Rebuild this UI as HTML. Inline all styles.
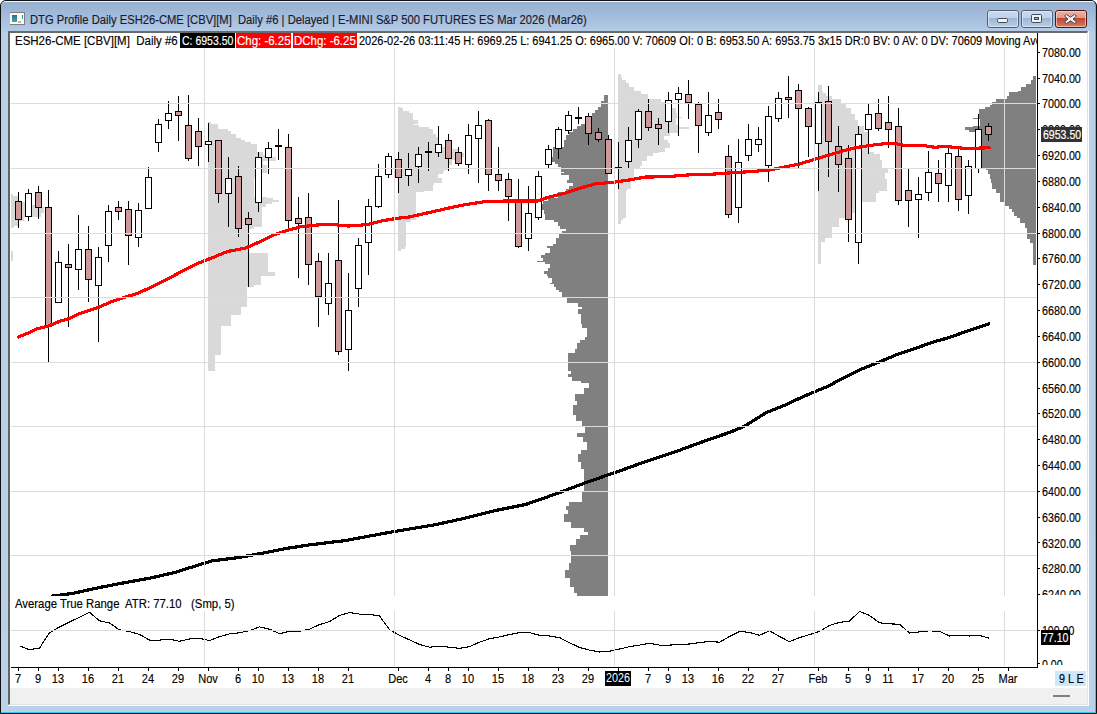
<!DOCTYPE html>
<html><head><meta charset="utf-8"><style>
html,body{margin:0;padding:0;}
body{width:1097px;height:714px;overflow:hidden;position:relative;background:#fff;font-family:"Liberation Sans",sans-serif;}
.t{position:absolute;white-space:pre;line-height:14px;transform-origin:0 0;-webkit-text-stroke:0.15px currentColor;}
.d{position:absolute;top:672px;width:60px;text-align:center;font-size:12px;line-height:14px;white-space:pre;transform:scaleX(0.92);-webkit-text-stroke:0.15px currentColor;}
#frame{position:absolute;left:0;top:0;width:1097px;height:714px;box-sizing:border-box;border:1px solid #101010;border-radius:6px 6px 0 0;background:#101010;}
#frame2{position:absolute;left:1px;top:1px;width:1095px;height:712px;box-sizing:border-box;border-radius:5px 5px 0 0;border-top:1px solid #f4f8fc;border-right:1px solid #38c4ee;border-bottom:1px solid #38c4ee;
 background:linear-gradient(180deg,#97b0ce 0px,#a2badb 12px,#b4cbe6 29px,#b9d0ea 31px,#bad1ea 714px);}
#client{position:absolute;left:8px;top:31px;width:1081px;height:675px;background:#fff;}
#cborder{position:absolute;left:8px;top:31px;width:1080px;height:674px;box-sizing:border-box;border-left:2px solid #646464;border-top:2px solid #6a6a6a;border-right:1px solid #e3e3e3;border-bottom:1px solid #e3e3e3;}
#status{position:absolute;left:10px;top:688px;width:1077px;height:16px;background:#f0f0f0;}
.btn{position:absolute;top:10px;height:17px;box-sizing:border-box;border:1px solid #5a6a80;border-radius:3px;}
svg{position:absolute;left:0;top:0;}
</style></head><body>
<div id="frame"></div><div id="frame2"></div>
<div id="client"></div>
<div id="status"></div>
<div style="position:absolute;left:1053px;top:695px;width:17px;height:2px;background:#808080"></div>
<div id="cborder"></div>
<svg width="1097" height="40" viewBox="0 0 1097 40" style="position:absolute;left:0;top:0">
<defs>
<linearGradient id="bg1" x1="0" y1="0" x2="0" y2="1"><stop offset="0" stop-color="#cddcee"/><stop offset="0.45" stop-color="#bcd0e7"/><stop offset="0.46" stop-color="#9cb5d2"/><stop offset="1" stop-color="#bcd2ea"/></linearGradient>
<linearGradient id="bg2" x1="0" y1="0" x2="0" y2="1"><stop offset="0" stop-color="#eab3a5"/><stop offset="0.45" stop-color="#e09a88"/><stop offset="0.46" stop-color="#c2452a"/><stop offset="1" stop-color="#d8806a"/></linearGradient>
</defs>
<rect x="987.5" y="10.5" width="31" height="17" rx="2.5" fill="url(#bg1)" stroke="#4f5f77"/>
<rect x="988.5" y="11.5" width="29" height="15" rx="1.5" fill="none" stroke="#e4eef8" stroke-opacity="0.7"/>
<rect x="1021.5" y="10.5" width="31" height="17" rx="2.5" fill="url(#bg1)" stroke="#4f5f77"/>
<rect x="1022.5" y="11.5" width="29" height="15" rx="1.5" fill="none" stroke="#e4eef8" stroke-opacity="0.7"/>
<rect x="1055.5" y="10.5" width="31" height="17" rx="2.5" fill="url(#bg2)" stroke="#4a1416"/>
<rect x="1056.5" y="11.5" width="29" height="15" rx="1.5" fill="none" stroke="#f6d6cc" stroke-opacity="0.7"/>
<rect x="997.5" y="18.5" width="10" height="4" rx="1.2" fill="#f4f4f4" stroke="#3c4a5c"/>
<rect x="1031.5" y="14.5" width="10" height="8" rx="1.2" fill="#f4f4f4" stroke="#3c4a5c"/>
<rect x="1034.5" y="17.5" width="4" height="2" fill="#8fb0d4" stroke="#3c4a5c"/>
<path d="M1066.5,14.5 L1070.5,17.2 L1074.5,14.5 L1076.5,16 L1073,19 L1076.5,22 L1074.5,23.5 L1070.5,20.8 L1066.5,23.5 L1064.5,22 L1068,19 L1064.5,16 Z" fill="#f6f6f6" stroke="#3c4a5c" stroke-width="1" stroke-linejoin="round"/>
</svg>
<svg width="30" height="30" viewBox="0 0 30 30" style="position:absolute;left:0;top:0" shape-rendering="crispEdges">
<defs><linearGradient id="ig" x1="0" y1="0" x2="0" y2="1"><stop offset="0" stop-color="#2f62b4"/><stop offset="0.5" stop-color="#3a8f9a"/><stop offset="1" stop-color="#3fb455"/></linearGradient></defs>
<rect x="10" y="12" width="15" height="13" fill="#7d7d7d"/>
<rect x="10" y="13" width="14" height="11" fill="#fcfcfc"/>
<rect x="12" y="15" width="5" height="7" fill="url(#ig)"/>
<rect x="22" y="15" width="1" height="4" fill="url(#ig)"/>
<rect x="18" y="21" width="3" height="2" fill="#b8b8b8"/>
</svg>
<div class="t" style="left:30px;top:13px;font-size:12px;transform:scaleX(0.934);color:#1a1a2a">DTG Profile Daily ESH26-CME [CBV][M]  Daily #6 | Delayed | E-MINI S&amp;P 500 FUTURES ES Mar 2026 (Mar26)</div>
<svg width="1097" height="714" viewBox="0 0 1097 714" shape-rendering="crispEdges">
<defs><clipPath id="mainclip"><rect x="10" y="48" width="1027" height="548"/></clipPath><clipPath id="atrclip"><rect x="11" y="596" width="1026" height="71"/></clipPath></defs>
<g clip-path="url(#mainclip)">
<rect x="11" y="194" width="2" height="2" fill="#D9D9D9"/>
<rect x="11" y="196" width="7" height="6" fill="#D9D9D9"/>
<rect x="11" y="202" width="14" height="3" fill="#D9D9D9"/>
<rect x="11" y="205" width="27" height="2" fill="#D9D9D9"/>
<rect x="11" y="207" width="33" height="6" fill="#D9D9D9"/>
<rect x="11" y="213" width="30" height="4" fill="#D9D9D9"/>
<rect x="11" y="217" width="13" height="4" fill="#D9D9D9"/>
<rect x="11" y="221" width="7" height="5" fill="#D9D9D9"/>
<rect x="11" y="226" width="3" height="2" fill="#D9D9D9"/>
<rect x="11" y="251" width="2" height="10" fill="#D9D9D9"/>
<rect x="208" y="122" width="3" height="2" fill="#D9D9D9"/>
<rect x="208" y="124" width="10" height="5" fill="#D9D9D9"/>
<rect x="208" y="129" width="20" height="2" fill="#D9D9D9"/>
<rect x="208" y="131" width="23" height="3" fill="#D9D9D9"/>
<rect x="208" y="134" width="28" height="4" fill="#D9D9D9"/>
<rect x="208" y="138" width="33" height="2" fill="#D9D9D9"/>
<rect x="208" y="140" width="37" height="2" fill="#D9D9D9"/>
<rect x="208" y="142" width="43" height="2" fill="#D9D9D9"/>
<rect x="208" y="144" width="49" height="8" fill="#D9D9D9"/>
<rect x="208" y="152" width="55" height="3" fill="#D9D9D9"/>
<rect x="208" y="155" width="60" height="2" fill="#D9D9D9"/>
<rect x="208" y="157" width="68" height="4" fill="#D9D9D9"/>
<rect x="208" y="161" width="55" height="4" fill="#D9D9D9"/>
<rect x="208" y="165" width="59" height="8" fill="#D9D9D9"/>
<rect x="208" y="173" width="54" height="5" fill="#D9D9D9"/>
<rect x="208" y="178" width="46" height="19" fill="#D9D9D9"/>
<rect x="208" y="197" width="59" height="1" fill="#D9D9D9"/>
<rect x="208" y="198" width="65" height="2" fill="#D9D9D9"/>
<rect x="208" y="200" width="71" height="2" fill="#D9D9D9"/>
<rect x="208" y="202" width="64" height="2" fill="#D9D9D9"/>
<rect x="208" y="204" width="58" height="3" fill="#D9D9D9"/>
<rect x="208" y="207" width="54" height="20" fill="#D9D9D9"/>
<rect x="208" y="227" width="46" height="2" fill="#D9D9D9"/>
<rect x="208" y="229" width="40" height="24" fill="#D9D9D9"/>
<rect x="208" y="253" width="60" height="19" fill="#D9D9D9"/>
<rect x="208" y="272" width="67" height="4" fill="#D9D9D9"/>
<rect x="208" y="276" width="53" height="9" fill="#D9D9D9"/>
<rect x="208" y="285" width="46" height="2" fill="#D9D9D9"/>
<rect x="208" y="287" width="39" height="20" fill="#D9D9D9"/>
<rect x="208" y="307" width="33" height="8" fill="#D9D9D9"/>
<rect x="208" y="315" width="23" height="11" fill="#D9D9D9"/>
<rect x="208" y="326" width="13" height="29" fill="#D9D9D9"/>
<rect x="208" y="355" width="7" height="16" fill="#D9D9D9"/>
<rect x="398" y="107" width="3" height="1" fill="#D9D9D9"/>
<rect x="398" y="108" width="5" height="3" fill="#D9D9D9"/>
<rect x="398" y="111" width="11" height="2" fill="#D9D9D9"/>
<rect x="398" y="113" width="15" height="7" fill="#D9D9D9"/>
<rect x="398" y="120" width="20" height="4" fill="#D9D9D9"/>
<rect x="398" y="124" width="16" height="1" fill="#D9D9D9"/>
<rect x="398" y="125" width="21" height="2" fill="#D9D9D9"/>
<rect x="398" y="127" width="31" height="2" fill="#D9D9D9"/>
<rect x="398" y="129" width="35" height="5" fill="#D9D9D9"/>
<rect x="398" y="134" width="38" height="3" fill="#D9D9D9"/>
<rect x="398" y="137" width="40" height="8" fill="#D9D9D9"/>
<rect x="398" y="145" width="44" height="2" fill="#D9D9D9"/>
<rect x="398" y="147" width="54" height="2" fill="#D9D9D9"/>
<rect x="398" y="149" width="61" height="4" fill="#D9D9D9"/>
<rect x="398" y="153" width="66" height="4" fill="#D9D9D9"/>
<rect x="398" y="157" width="60" height="3" fill="#D9D9D9"/>
<rect x="398" y="160" width="54" height="5" fill="#D9D9D9"/>
<rect x="398" y="165" width="50" height="5" fill="#D9D9D9"/>
<rect x="398" y="170" width="46" height="2" fill="#D9D9D9"/>
<rect x="398" y="172" width="45" height="2" fill="#D9D9D9"/>
<rect x="398" y="174" width="40" height="4" fill="#D9D9D9"/>
<rect x="398" y="178" width="44" height="5" fill="#D9D9D9"/>
<rect x="398" y="183" width="36" height="2" fill="#D9D9D9"/>
<rect x="398" y="185" width="35" height="6" fill="#D9D9D9"/>
<rect x="398" y="191" width="26" height="1" fill="#D9D9D9"/>
<rect x="398" y="192" width="18" height="28" fill="#D9D9D9"/>
<rect x="398" y="220" width="13" height="2" fill="#D9D9D9"/>
<rect x="398" y="222" width="8" height="25" fill="#D9D9D9"/>
<rect x="398" y="247" width="7" height="2" fill="#D9D9D9"/>
<rect x="398" y="249" width="3" height="2" fill="#D9D9D9"/>
<rect x="618" y="74" width="3" height="3" fill="#D9D9D9"/>
<rect x="618" y="77" width="4" height="3" fill="#D9D9D9"/>
<rect x="618" y="80" width="8" height="3" fill="#D9D9D9"/>
<rect x="618" y="83" width="11" height="4" fill="#D9D9D9"/>
<rect x="618" y="87" width="16" height="4" fill="#D9D9D9"/>
<rect x="618" y="91" width="23" height="3" fill="#D9D9D9"/>
<rect x="618" y="94" width="30" height="5" fill="#D9D9D9"/>
<rect x="618" y="99" width="43" height="3" fill="#D9D9D9"/>
<rect x="618" y="102" width="47" height="4" fill="#D9D9D9"/>
<rect x="618" y="106" width="54" height="2" fill="#D9D9D9"/>
<rect x="618" y="108" width="58" height="5" fill="#D9D9D9"/>
<rect x="618" y="113" width="59" height="4" fill="#D9D9D9"/>
<rect x="618" y="117" width="64" height="1" fill="#D9D9D9"/>
<rect x="618" y="118" width="58" height="7" fill="#D9D9D9"/>
<rect x="618" y="125" width="60" height="2" fill="#D9D9D9"/>
<rect x="618" y="127" width="71" height="2" fill="#D9D9D9"/>
<rect x="618" y="129" width="60" height="4" fill="#D9D9D9"/>
<rect x="618" y="133" width="52" height="3" fill="#D9D9D9"/>
<rect x="618" y="136" width="46" height="4" fill="#D9D9D9"/>
<rect x="618" y="140" width="50" height="3" fill="#D9D9D9"/>
<rect x="618" y="143" width="52" height="5" fill="#D9D9D9"/>
<rect x="618" y="148" width="47" height="4" fill="#D9D9D9"/>
<rect x="618" y="152" width="41" height="1" fill="#D9D9D9"/>
<rect x="618" y="153" width="35" height="3" fill="#D9D9D9"/>
<rect x="618" y="156" width="29" height="5" fill="#D9D9D9"/>
<rect x="618" y="161" width="24" height="5" fill="#D9D9D9"/>
<rect x="618" y="166" width="22" height="2" fill="#D9D9D9"/>
<rect x="618" y="168" width="16" height="11" fill="#D9D9D9"/>
<rect x="618" y="179" width="13" height="10" fill="#D9D9D9"/>
<rect x="618" y="189" width="9" height="2" fill="#D9D9D9"/>
<rect x="618" y="191" width="8" height="27" fill="#D9D9D9"/>
<rect x="618" y="218" width="5" height="2" fill="#D9D9D9"/>
<rect x="618" y="220" width="3" height="4" fill="#D9D9D9"/>
<rect x="818" y="85" width="4" height="6" fill="#D9D9D9"/>
<rect x="818" y="91" width="5" height="2" fill="#D9D9D9"/>
<rect x="818" y="93" width="8" height="3" fill="#D9D9D9"/>
<rect x="818" y="96" width="14" height="3" fill="#D9D9D9"/>
<rect x="818" y="99" width="23" height="4" fill="#D9D9D9"/>
<rect x="818" y="103" width="28" height="5" fill="#D9D9D9"/>
<rect x="818" y="108" width="33" height="6" fill="#D9D9D9"/>
<rect x="818" y="114" width="37" height="6" fill="#D9D9D9"/>
<rect x="818" y="120" width="40" height="6" fill="#D9D9D9"/>
<rect x="818" y="126" width="46" height="6" fill="#D9D9D9"/>
<rect x="818" y="132" width="50" height="20" fill="#D9D9D9"/>
<rect x="818" y="152" width="56" height="2" fill="#D9D9D9"/>
<rect x="818" y="154" width="62" height="6" fill="#D9D9D9"/>
<rect x="818" y="160" width="64" height="8" fill="#D9D9D9"/>
<rect x="818" y="168" width="70" height="5" fill="#D9D9D9"/>
<rect x="818" y="173" width="67" height="6" fill="#D9D9D9"/>
<rect x="818" y="179" width="69" height="12" fill="#D9D9D9"/>
<rect x="818" y="191" width="61" height="2" fill="#D9D9D9"/>
<rect x="818" y="193" width="58" height="9" fill="#D9D9D9"/>
<rect x="818" y="202" width="44" height="11" fill="#D9D9D9"/>
<rect x="818" y="213" width="27" height="5" fill="#D9D9D9"/>
<rect x="818" y="218" width="21" height="9" fill="#D9D9D9"/>
<rect x="818" y="227" width="14" height="11" fill="#D9D9D9"/>
<rect x="818" y="238" width="7" height="4" fill="#D9D9D9"/>
<rect x="818" y="242" width="3" height="22" fill="#D9D9D9"/>
<rect x="604" y="95" width="4" height="6" fill="#808080"/>
<rect x="601" y="101" width="7" height="6" fill="#808080"/>
<rect x="598" y="107" width="10" height="3" fill="#808080"/>
<rect x="595" y="110" width="13" height="3" fill="#808080"/>
<rect x="592" y="113" width="16" height="3" fill="#808080"/>
<rect x="588" y="116" width="20" height="3" fill="#808080"/>
<rect x="585" y="119" width="23" height="5" fill="#808080"/>
<rect x="581" y="124" width="27" height="2" fill="#808080"/>
<rect x="577" y="126" width="31" height="3" fill="#808080"/>
<rect x="573" y="129" width="35" height="3" fill="#808080"/>
<rect x="569" y="132" width="39" height="3" fill="#808080"/>
<rect x="566" y="135" width="42" height="5" fill="#808080"/>
<rect x="564" y="140" width="44" height="7" fill="#808080"/>
<rect x="553" y="147" width="55" height="10" fill="#808080"/>
<rect x="552" y="157" width="56" height="5" fill="#808080"/>
<rect x="555" y="162" width="53" height="2" fill="#808080"/>
<rect x="558" y="164" width="50" height="3" fill="#808080"/>
<rect x="561" y="167" width="47" height="5" fill="#808080"/>
<rect x="564" y="172" width="44" height="1" fill="#808080"/>
<rect x="561" y="173" width="47" height="2" fill="#808080"/>
<rect x="569" y="175" width="39" height="5" fill="#808080"/>
<rect x="567" y="180" width="41" height="3" fill="#808080"/>
<rect x="573" y="183" width="35" height="3" fill="#808080"/>
<rect x="569" y="186" width="39" height="3" fill="#808080"/>
<rect x="566" y="189" width="42" height="3" fill="#808080"/>
<rect x="558" y="192" width="50" height="6" fill="#808080"/>
<rect x="548" y="198" width="60" height="3" fill="#808080"/>
<rect x="543" y="201" width="65" height="3" fill="#808080"/>
<rect x="542" y="204" width="66" height="6" fill="#808080"/>
<rect x="544" y="210" width="64" height="4" fill="#808080"/>
<rect x="545" y="214" width="63" height="6" fill="#808080"/>
<rect x="554" y="220" width="54" height="2" fill="#808080"/>
<rect x="558" y="222" width="50" height="4" fill="#808080"/>
<rect x="560" y="226" width="48" height="3" fill="#808080"/>
<rect x="566" y="229" width="42" height="2" fill="#808080"/>
<rect x="562" y="231" width="46" height="3" fill="#808080"/>
<rect x="559" y="234" width="49" height="4" fill="#808080"/>
<rect x="556" y="238" width="52" height="3" fill="#808080"/>
<rect x="556" y="241" width="52" height="3" fill="#808080"/>
<rect x="553" y="244" width="55" height="2" fill="#808080"/>
<rect x="547" y="246" width="61" height="2" fill="#808080"/>
<rect x="550" y="248" width="58" height="5" fill="#808080"/>
<rect x="545" y="253" width="63" height="2" fill="#808080"/>
<rect x="541" y="255" width="67" height="3" fill="#808080"/>
<rect x="543" y="258" width="65" height="3" fill="#808080"/>
<rect x="537" y="261" width="71" height="1" fill="#808080"/>
<rect x="545" y="262" width="63" height="2" fill="#808080"/>
<rect x="550" y="264" width="58" height="4" fill="#808080"/>
<rect x="548" y="268" width="60" height="3" fill="#808080"/>
<rect x="544" y="271" width="64" height="3" fill="#808080"/>
<rect x="547" y="274" width="61" height="2" fill="#808080"/>
<rect x="548" y="276" width="60" height="2" fill="#808080"/>
<rect x="552" y="278" width="56" height="5" fill="#808080"/>
<rect x="550" y="283" width="58" height="1" fill="#808080"/>
<rect x="554" y="284" width="54" height="3" fill="#808080"/>
<rect x="556" y="287" width="52" height="3" fill="#808080"/>
<rect x="559" y="290" width="49" height="2" fill="#808080"/>
<rect x="562" y="292" width="46" height="5" fill="#808080"/>
<rect x="567" y="297" width="41" height="6" fill="#808080"/>
<rect x="578" y="303" width="30" height="4" fill="#808080"/>
<rect x="582" y="307" width="26" height="2" fill="#808080"/>
<rect x="578" y="309" width="30" height="5" fill="#808080"/>
<rect x="581" y="314" width="27" height="3" fill="#808080"/>
<rect x="581" y="317" width="27" height="7" fill="#808080"/>
<rect x="582" y="324" width="26" height="4" fill="#808080"/>
<rect x="587" y="328" width="21" height="9" fill="#808080"/>
<rect x="585" y="337" width="23" height="3" fill="#808080"/>
<rect x="580" y="340" width="28" height="3" fill="#808080"/>
<rect x="577" y="343" width="31" height="6" fill="#808080"/>
<rect x="575" y="349" width="33" height="4" fill="#808080"/>
<rect x="568" y="353" width="40" height="9" fill="#808080"/>
<rect x="568" y="362" width="40" height="9" fill="#808080"/>
<rect x="571" y="371" width="37" height="3" fill="#808080"/>
<rect x="568" y="374" width="40" height="3" fill="#808080"/>
<rect x="572" y="377" width="36" height="4" fill="#808080"/>
<rect x="581" y="381" width="27" height="2" fill="#808080"/>
<rect x="589" y="383" width="19" height="5" fill="#808080"/>
<rect x="584" y="388" width="24" height="6" fill="#808080"/>
<rect x="575" y="394" width="33" height="7" fill="#808080"/>
<rect x="577" y="401" width="31" height="4" fill="#808080"/>
<rect x="573" y="405" width="35" height="10" fill="#808080"/>
<rect x="576" y="415" width="32" height="6" fill="#808080"/>
<rect x="582" y="421" width="26" height="5" fill="#808080"/>
<rect x="585" y="426" width="23" height="7" fill="#808080"/>
<rect x="577" y="433" width="31" height="4" fill="#808080"/>
<rect x="583" y="437" width="25" height="5" fill="#808080"/>
<rect x="587" y="442" width="21" height="8" fill="#808080"/>
<rect x="581" y="450" width="27" height="4" fill="#808080"/>
<rect x="578" y="454" width="30" height="8" fill="#808080"/>
<rect x="581" y="462" width="27" height="7" fill="#808080"/>
<rect x="584" y="469" width="24" height="22" fill="#808080"/>
<rect x="582" y="491" width="26" height="11" fill="#808080"/>
<rect x="569" y="502" width="39" height="4" fill="#808080"/>
<rect x="566" y="506" width="42" height="4" fill="#808080"/>
<rect x="568" y="510" width="40" height="4" fill="#808080"/>
<rect x="564" y="514" width="44" height="8" fill="#808080"/>
<rect x="571" y="522" width="37" height="6" fill="#808080"/>
<rect x="584" y="528" width="24" height="4" fill="#808080"/>
<rect x="588" y="532" width="20" height="3" fill="#808080"/>
<rect x="580" y="535" width="28" height="4" fill="#808080"/>
<rect x="576" y="539" width="32" height="6" fill="#808080"/>
<rect x="570" y="545" width="38" height="6" fill="#808080"/>
<rect x="571" y="551" width="37" height="12" fill="#808080"/>
<rect x="569" y="563" width="39" height="7" fill="#808080"/>
<rect x="565" y="570" width="43" height="8" fill="#808080"/>
<rect x="570" y="578" width="38" height="9" fill="#808080"/>
<rect x="574" y="587" width="34" height="6" fill="#808080"/>
<rect x="577" y="593" width="31" height="3" fill="#808080"/>
<rect x="1033" y="76" width="3" height="4" fill="#808080"/>
<rect x="1031" y="80" width="5" height="4" fill="#808080"/>
<rect x="1026" y="84" width="10" height="3" fill="#808080"/>
<rect x="1021" y="87" width="15" height="4" fill="#808080"/>
<rect x="1018" y="91" width="18" height="1" fill="#808080"/>
<rect x="1009" y="92" width="27" height="4" fill="#808080"/>
<rect x="1007" y="96" width="29" height="3" fill="#808080"/>
<rect x="996" y="99" width="40" height="3" fill="#808080"/>
<rect x="992" y="102" width="44" height="3" fill="#808080"/>
<rect x="990" y="105" width="46" height="2" fill="#808080"/>
<rect x="985" y="107" width="51" height="2" fill="#808080"/>
<rect x="979" y="109" width="57" height="9" fill="#808080"/>
<rect x="973" y="118" width="63" height="1" fill="#808080"/>
<rect x="980" y="119" width="56" height="7" fill="#808080"/>
<rect x="973" y="126" width="63" height="1" fill="#808080"/>
<rect x="965" y="127" width="71" height="3" fill="#808080"/>
<rect x="969" y="130" width="67" height="2" fill="#808080"/>
<rect x="977" y="132" width="59" height="11" fill="#808080"/>
<rect x="975" y="143" width="61" height="8" fill="#808080"/>
<rect x="982" y="151" width="54" height="17" fill="#808080"/>
<rect x="986" y="168" width="50" height="2" fill="#808080"/>
<rect x="988" y="170" width="48" height="4" fill="#808080"/>
<rect x="990" y="174" width="46" height="5" fill="#808080"/>
<rect x="991" y="179" width="45" height="4" fill="#808080"/>
<rect x="992" y="183" width="44" height="6" fill="#808080"/>
<rect x="996" y="189" width="40" height="4" fill="#808080"/>
<rect x="1000" y="193" width="36" height="9" fill="#808080"/>
<rect x="1005" y="202" width="31" height="4" fill="#808080"/>
<rect x="1009" y="206" width="27" height="3" fill="#808080"/>
<rect x="1012" y="209" width="24" height="3" fill="#808080"/>
<rect x="1014" y="212" width="22" height="4" fill="#808080"/>
<rect x="1017" y="216" width="19" height="2" fill="#808080"/>
<rect x="1020" y="218" width="16" height="5" fill="#808080"/>
<rect x="1025" y="223" width="11" height="5" fill="#808080"/>
<rect x="1027" y="228" width="9" height="11" fill="#808080"/>
<rect x="1030" y="239" width="6" height="4" fill="#808080"/>
<rect x="1033" y="243" width="3" height="22" fill="#808080"/>
<polyline points="51.0,596.3 72.0,593.5 101.5,587.1 126.1,582.4 150.8,578.0 175.4,572.3 200.0,564.5 212.3,560.8 236.9,557.8 261.5,553.4 286.1,548.5 310.0,544.8 345.1,540.6 390.3,532.2 435.4,524.7 465.5,518.1 495.5,510.5 525.6,504.5 555.7,494.0 585.8,482.6 620.0,470.8 638.2,464.2 656.5,458.0 674.7,452.0 692.9,445.3 711.2,438.7 729.4,432.5 744.0,426.5 765.9,412.8 784.1,405.5 802.3,397.0 827.3,386.5 844.6,377.5 862.0,368.9 879.3,362.0 896.6,354.7 913.9,349.0 931.2,342.6 948.6,337.7 965.9,331.6 990.1,323.5" fill="none" stroke="#000" stroke-width="3.2" stroke-linejoin="round"/>
<rect x="18" y="192" width="1" height="36" fill="#000"/>
<rect x="15.5" y="201.5" width="6" height="18" fill="#CC9A9A" stroke="#000" stroke-width="1"/>
<rect x="28" y="189" width="1" height="32" fill="#000"/>
<rect x="25.5" y="193.5" width="6" height="23" fill="#fff" stroke="#000" stroke-width="1"/>
<rect x="38" y="186" width="1" height="33" fill="#000"/>
<rect x="35.5" y="192.5" width="6" height="15" fill="#CC9A9A" stroke="#000" stroke-width="1"/>
<rect x="48" y="190" width="1" height="172" fill="#000"/>
<rect x="45.5" y="207.5" width="6" height="119" fill="#CC9A9A" stroke="#000" stroke-width="1"/>
<rect x="58" y="251" width="1" height="52" fill="#000"/>
<rect x="55.5" y="262.5" width="6" height="40" fill="#fff" stroke="#000" stroke-width="1"/>
<rect x="68" y="244" width="1" height="83" fill="#000"/>
<rect x="65.5" y="264.5" width="6" height="3" fill="#CC9A9A" stroke="#000" stroke-width="1"/>
<rect x="78" y="215" width="1" height="75" fill="#000"/>
<rect x="75.5" y="249.5" width="6" height="20" fill="#fff" stroke="#000" stroke-width="1"/>
<rect x="88" y="226" width="1" height="76" fill="#000"/>
<rect x="85.5" y="249.5" width="6" height="30" fill="#CC9A9A" stroke="#000" stroke-width="1"/>
<rect x="98" y="247" width="1" height="95" fill="#000"/>
<rect x="95.5" y="257.5" width="6" height="28" fill="#fff" stroke="#000" stroke-width="1"/>
<rect x="108" y="205" width="1" height="57" fill="#000"/>
<rect x="105.5" y="211.5" width="6" height="34" fill="#fff" stroke="#000" stroke-width="1"/>
<rect x="118" y="201" width="1" height="19" fill="#000"/>
<rect x="115.5" y="207.5" width="6" height="4" fill="#CC9A9A" stroke="#000" stroke-width="1"/>
<rect x="128" y="201" width="1" height="64" fill="#000"/>
<rect x="125.5" y="209.5" width="6" height="26" fill="#CC9A9A" stroke="#000" stroke-width="1"/>
<rect x="138" y="203" width="1" height="44" fill="#000"/>
<rect x="135.5" y="210.5" width="6" height="27" fill="#fff" stroke="#000" stroke-width="1"/>
<rect x="148" y="167" width="1" height="41" fill="#000"/>
<rect x="145.5" y="177.5" width="6" height="31" fill="#fff" stroke="#000" stroke-width="1"/>
<rect x="158" y="119" width="1" height="33" fill="#000"/>
<rect x="155.5" y="124.5" width="6" height="18" fill="#fff" stroke="#000" stroke-width="1"/>
<rect x="168" y="101" width="1" height="28" fill="#000"/>
<rect x="165.5" y="113.5" width="6" height="7" fill="#fff" stroke="#000" stroke-width="1"/>
<rect x="178" y="96" width="1" height="45" fill="#000"/>
<rect x="175.5" y="111.5" width="6" height="4" fill="#CC9A9A" stroke="#000" stroke-width="1"/>
<rect x="188" y="95" width="1" height="66" fill="#000"/>
<rect x="185.5" y="125.5" width="6" height="33" fill="#CC9A9A" stroke="#000" stroke-width="1"/>
<rect x="198" y="118" width="1" height="48" fill="#000"/>
<rect x="195.5" y="131.5" width="6" height="15" fill="#CC9A9A" stroke="#000" stroke-width="1"/>
<rect x="208" y="123" width="1" height="39" fill="#000"/>
<rect x="205.5" y="141.5" width="6" height="3" fill="#fff" stroke="#000" stroke-width="1"/>
<rect x="218" y="140" width="1" height="63" fill="#000"/>
<rect x="215.5" y="140.5" width="6" height="53" fill="#CC9A9A" stroke="#000" stroke-width="1"/>
<rect x="228" y="157" width="1" height="70" fill="#000"/>
<rect x="225.5" y="178.5" width="6" height="15" fill="#fff" stroke="#000" stroke-width="1"/>
<rect x="238" y="166" width="1" height="71" fill="#000"/>
<rect x="235.5" y="176.5" width="6" height="52" fill="#CC9A9A" stroke="#000" stroke-width="1"/>
<rect x="248" y="212" width="1" height="75" fill="#000"/>
<rect x="245.5" y="218.5" width="6" height="6" fill="#CC9A9A" stroke="#000" stroke-width="1"/>
<rect x="258" y="152" width="1" height="60" fill="#000"/>
<rect x="255.5" y="157.5" width="6" height="45" fill="#fff" stroke="#000" stroke-width="1"/>
<rect x="268" y="142" width="1" height="32" fill="#000"/>
<rect x="265.5" y="148.5" width="6" height="9" fill="#fff" stroke="#000" stroke-width="1"/>
<rect x="278" y="129" width="1" height="31" fill="#000"/>
<rect x="275" y="145" width="7" height="2" fill="#000"/>
<rect x="288" y="134" width="1" height="95" fill="#000"/>
<rect x="285.5" y="147.5" width="6" height="73" fill="#CC9A9A" stroke="#000" stroke-width="1"/>
<rect x="298" y="197" width="1" height="81" fill="#000"/>
<rect x="295.5" y="218.5" width="6" height="5" fill="#CC9A9A" stroke="#000" stroke-width="1"/>
<rect x="308" y="193" width="1" height="92" fill="#000"/>
<rect x="305.5" y="217.5" width="6" height="47" fill="#CC9A9A" stroke="#000" stroke-width="1"/>
<rect x="318" y="253" width="1" height="74" fill="#000"/>
<rect x="315.5" y="261.5" width="6" height="35" fill="#CC9A9A" stroke="#000" stroke-width="1"/>
<rect x="328" y="253" width="1" height="62" fill="#000"/>
<rect x="325.5" y="283.5" width="6" height="20" fill="#fff" stroke="#000" stroke-width="1"/>
<rect x="338" y="200" width="1" height="155" fill="#000"/>
<rect x="335.5" y="260.5" width="6" height="91" fill="#CC9A9A" stroke="#000" stroke-width="1"/>
<rect x="348" y="273" width="1" height="98" fill="#000"/>
<rect x="345.5" y="310.5" width="6" height="39" fill="#fff" stroke="#000" stroke-width="1"/>
<rect x="358" y="238" width="1" height="69" fill="#000"/>
<rect x="355.5" y="245.5" width="6" height="43" fill="#fff" stroke="#000" stroke-width="1"/>
<rect x="368" y="199" width="1" height="76" fill="#000"/>
<rect x="365.5" y="206.5" width="6" height="36" fill="#fff" stroke="#000" stroke-width="1"/>
<rect x="378" y="164" width="1" height="44" fill="#000"/>
<rect x="375.5" y="176.5" width="6" height="30" fill="#fff" stroke="#000" stroke-width="1"/>
<rect x="388" y="153" width="1" height="25" fill="#000"/>
<rect x="385.5" y="156.5" width="6" height="18" fill="#fff" stroke="#000" stroke-width="1"/>
<rect x="398" y="152" width="1" height="41" fill="#000"/>
<rect x="395.5" y="159.5" width="6" height="18" fill="#CC9A9A" stroke="#000" stroke-width="1"/>
<rect x="408" y="153" width="1" height="33" fill="#000"/>
<rect x="405.5" y="169.5" width="6" height="6" fill="#fff" stroke="#000" stroke-width="1"/>
<rect x="418" y="147" width="1" height="36" fill="#000"/>
<rect x="415.5" y="154.5" width="6" height="12" fill="#fff" stroke="#000" stroke-width="1"/>
<rect x="428" y="142" width="1" height="29" fill="#000"/>
<rect x="425" y="151" width="7" height="2" fill="#000"/>
<rect x="438" y="126" width="1" height="31" fill="#000"/>
<rect x="435.5" y="144.5" width="6" height="8" fill="#fff" stroke="#000" stroke-width="1"/>
<rect x="448" y="134" width="1" height="37" fill="#000"/>
<rect x="445.5" y="140.5" width="6" height="18" fill="#CC9A9A" stroke="#000" stroke-width="1"/>
<rect x="458" y="147" width="1" height="19" fill="#000"/>
<rect x="455.5" y="152.5" width="6" height="11" fill="#CC9A9A" stroke="#000" stroke-width="1"/>
<rect x="468" y="124" width="1" height="50" fill="#000"/>
<rect x="465.5" y="135.5" width="6" height="29" fill="#fff" stroke="#000" stroke-width="1"/>
<rect x="478" y="111" width="1" height="72" fill="#000"/>
<rect x="475.5" y="125.5" width="6" height="13" fill="#fff" stroke="#000" stroke-width="1"/>
<rect x="488" y="119" width="1" height="72" fill="#000"/>
<rect x="485.5" y="120.5" width="6" height="54" fill="#CC9A9A" stroke="#000" stroke-width="1"/>
<rect x="498" y="147" width="1" height="44" fill="#000"/>
<rect x="495.5" y="174.5" width="6" height="6" fill="#CC9A9A" stroke="#000" stroke-width="1"/>
<rect x="508" y="173" width="1" height="48" fill="#000"/>
<rect x="505.5" y="179.5" width="6" height="17" fill="#CC9A9A" stroke="#000" stroke-width="1"/>
<rect x="518" y="179" width="1" height="69" fill="#000"/>
<rect x="515.5" y="202.5" width="6" height="44" fill="#CC9A9A" stroke="#000" stroke-width="1"/>
<rect x="528" y="186" width="1" height="65" fill="#000"/>
<rect x="525.5" y="213.5" width="6" height="25" fill="#fff" stroke="#000" stroke-width="1"/>
<rect x="538" y="171" width="1" height="49" fill="#000"/>
<rect x="535.5" y="176.5" width="6" height="41" fill="#fff" stroke="#000" stroke-width="1"/>
<rect x="548" y="145" width="1" height="23" fill="#000"/>
<rect x="545.5" y="149.5" width="6" height="15" fill="#fff" stroke="#000" stroke-width="1"/>
<rect x="558" y="127" width="1" height="32" fill="#000"/>
<rect x="555.5" y="129.5" width="6" height="19" fill="#fff" stroke="#000" stroke-width="1"/>
<rect x="568" y="111" width="1" height="23" fill="#000"/>
<rect x="565.5" y="115.5" width="6" height="15" fill="#fff" stroke="#000" stroke-width="1"/>
<rect x="578" y="107" width="1" height="17" fill="#000"/>
<rect x="575" y="117" width="7" height="2" fill="#000"/>
<rect x="588" y="113" width="1" height="32" fill="#000"/>
<rect x="585.5" y="116.5" width="6" height="17" fill="#CC9A9A" stroke="#000" stroke-width="1"/>
<rect x="598" y="128" width="1" height="14" fill="#000"/>
<rect x="595.5" y="132.5" width="6" height="7" fill="#CC9A9A" stroke="#000" stroke-width="1"/>
<rect x="608" y="135" width="1" height="39" fill="#000"/>
<rect x="605.5" y="139.5" width="6" height="34" fill="#CC9A9A" stroke="#000" stroke-width="1"/>
<rect x="618" y="142" width="1" height="47" fill="#000"/>
<rect x="615" y="167" width="7" height="2" fill="#000"/>
<rect x="628" y="127" width="1" height="41" fill="#000"/>
<rect x="625.5" y="140.5" width="6" height="21" fill="#fff" stroke="#000" stroke-width="1"/>
<rect x="638" y="109" width="1" height="39" fill="#000"/>
<rect x="635.5" y="111.5" width="6" height="28" fill="#fff" stroke="#000" stroke-width="1"/>
<rect x="648" y="99" width="1" height="32" fill="#000"/>
<rect x="645.5" y="111.5" width="6" height="16" fill="#CC9A9A" stroke="#000" stroke-width="1"/>
<rect x="658" y="118" width="1" height="27" fill="#000"/>
<rect x="655.5" y="124.5" width="6" height="4" fill="#CC9A9A" stroke="#000" stroke-width="1"/>
<rect x="668" y="92" width="1" height="41" fill="#000"/>
<rect x="665.5" y="100.5" width="6" height="21" fill="#fff" stroke="#000" stroke-width="1"/>
<rect x="678" y="87" width="1" height="49" fill="#000"/>
<rect x="675.5" y="93.5" width="6" height="6" fill="#fff" stroke="#000" stroke-width="1"/>
<rect x="688" y="80" width="1" height="39" fill="#000"/>
<rect x="685.5" y="94.5" width="6" height="8" fill="#CC9A9A" stroke="#000" stroke-width="1"/>
<rect x="698" y="102" width="1" height="51" fill="#000"/>
<rect x="695.5" y="104.5" width="6" height="21" fill="#CC9A9A" stroke="#000" stroke-width="1"/>
<rect x="708" y="92" width="1" height="44" fill="#000"/>
<rect x="705.5" y="115.5" width="6" height="17" fill="#fff" stroke="#000" stroke-width="1"/>
<rect x="718" y="99" width="1" height="30" fill="#000"/>
<rect x="715.5" y="112.5" width="6" height="7" fill="#CC9A9A" stroke="#000" stroke-width="1"/>
<rect x="728" y="145" width="1" height="73" fill="#000"/>
<rect x="725.5" y="156.5" width="6" height="58" fill="#CC9A9A" stroke="#000" stroke-width="1"/>
<rect x="738" y="139" width="1" height="84" fill="#000"/>
<rect x="735.5" y="162.5" width="6" height="45" fill="#fff" stroke="#000" stroke-width="1"/>
<rect x="748" y="124" width="1" height="37" fill="#000"/>
<rect x="745.5" y="139.5" width="6" height="16" fill="#fff" stroke="#000" stroke-width="1"/>
<rect x="758" y="127" width="1" height="25" fill="#000"/>
<rect x="755.5" y="139.5" width="6" height="5" fill="#fff" stroke="#000" stroke-width="1"/>
<rect x="768" y="106" width="1" height="76" fill="#000"/>
<rect x="765.5" y="116.5" width="6" height="49" fill="#fff" stroke="#000" stroke-width="1"/>
<rect x="778" y="92" width="1" height="30" fill="#000"/>
<rect x="775.5" y="98.5" width="6" height="20" fill="#fff" stroke="#000" stroke-width="1"/>
<rect x="788" y="76" width="1" height="42" fill="#000"/>
<rect x="785.5" y="97.5" width="6" height="2" fill="#CC9A9A" stroke="#000" stroke-width="1"/>
<rect x="798" y="84" width="1" height="84" fill="#000"/>
<rect x="795.5" y="90.5" width="6" height="18" fill="#CC9A9A" stroke="#000" stroke-width="1"/>
<rect x="808" y="107" width="1" height="50" fill="#000"/>
<rect x="805.5" y="108.5" width="6" height="18" fill="#CC9A9A" stroke="#000" stroke-width="1"/>
<rect x="818" y="92" width="1" height="99" fill="#000"/>
<rect x="815.5" y="102.5" width="6" height="41" fill="#fff" stroke="#000" stroke-width="1"/>
<rect x="828" y="86" width="1" height="91" fill="#000"/>
<rect x="825.5" y="101.5" width="6" height="40" fill="#CC9A9A" stroke="#000" stroke-width="1"/>
<rect x="838" y="126" width="1" height="66" fill="#000"/>
<rect x="835.5" y="146.5" width="6" height="18" fill="#CC9A9A" stroke="#000" stroke-width="1"/>
<rect x="848" y="145" width="1" height="97" fill="#000"/>
<rect x="845.5" y="158.5" width="6" height="61" fill="#CC9A9A" stroke="#000" stroke-width="1"/>
<rect x="858" y="126" width="1" height="138" fill="#000"/>
<rect x="855.5" y="134.5" width="6" height="108" fill="#fff" stroke="#000" stroke-width="1"/>
<rect x="868" y="104" width="1" height="50" fill="#000"/>
<rect x="865.5" y="114.5" width="6" height="15" fill="#fff" stroke="#000" stroke-width="1"/>
<rect x="878" y="99" width="1" height="32" fill="#000"/>
<rect x="875.5" y="113.5" width="6" height="15" fill="#CC9A9A" stroke="#000" stroke-width="1"/>
<rect x="888" y="96" width="1" height="52" fill="#000"/>
<rect x="885.5" y="122.5" width="6" height="7" fill="#CC9A9A" stroke="#000" stroke-width="1"/>
<rect x="898" y="108" width="1" height="97" fill="#000"/>
<rect x="895.5" y="126.5" width="6" height="74" fill="#CC9A9A" stroke="#000" stroke-width="1"/>
<rect x="908" y="169" width="1" height="58" fill="#000"/>
<rect x="905.5" y="190.5" width="6" height="10" fill="#CC9A9A" stroke="#000" stroke-width="1"/>
<rect x="918" y="177" width="1" height="61" fill="#000"/>
<rect x="915.5" y="194.5" width="6" height="5" fill="#fff" stroke="#000" stroke-width="1"/>
<rect x="928" y="151" width="1" height="50" fill="#000"/>
<rect x="925.5" y="172.5" width="6" height="20" fill="#fff" stroke="#000" stroke-width="1"/>
<rect x="938" y="160" width="1" height="42" fill="#000"/>
<rect x="935.5" y="173.5" width="6" height="10" fill="#CC9A9A" stroke="#000" stroke-width="1"/>
<rect x="948" y="148" width="1" height="54" fill="#000"/>
<rect x="945.5" y="153.5" width="6" height="32" fill="#fff" stroke="#000" stroke-width="1"/>
<rect x="958" y="149" width="1" height="62" fill="#000"/>
<rect x="955.5" y="156.5" width="6" height="43" fill="#CC9A9A" stroke="#000" stroke-width="1"/>
<rect x="968" y="160" width="1" height="54" fill="#000"/>
<rect x="965.5" y="166.5" width="6" height="29" fill="#fff" stroke="#000" stroke-width="1"/>
<rect x="978" y="114" width="1" height="59" fill="#000"/>
<rect x="975.5" y="129.5" width="6" height="39" fill="#fff" stroke="#000" stroke-width="1"/>
<rect x="988" y="123" width="1" height="18" fill="#000"/>
<rect x="985.5" y="126.5" width="6" height="8" fill="#CC9A9A" stroke="#000" stroke-width="1"/>
<polyline points="17.3,337.5 28.2,333.0 37.3,328.8 48.3,326.2 59.2,321.5 68.3,318.9 79.3,313.8 90.2,310.2 101.2,306.2 112.1,301.4 123.0,297.8 137.6,293.4 155.9,285.0 174.1,275.5 192.3,266.0 200.0,262.5 213.7,257.2 227.3,251.5 245.6,248.1 259.3,242.0 272.9,235.1 286.6,230.6 300.3,226.9 313.9,225.3 327.6,224.2 336.7,224.9 348.1,226.0 359.5,225.3 368.6,224.2 382.3,220.8 396.0,218.5 409.7,216.9 427.9,212.8 450.0,207.8 462.8,205.1 485.6,201.5 508.4,201.0 538.0,201.0 547.1,197.6 565.3,193.0 581.3,187.8 595.0,183.9 613.2,182.3 629.2,180.0 645.1,177.1 667.9,176.6 690.0,174.8 705.9,174.6 724.0,173.3 740.0,172.3 754.6,171.3 769.2,170.1 783.8,167.2 798.3,164.3 812.9,159.9 827.5,155.5 842.1,151.1 856.7,147.5 871.3,145.3 880.0,144.2 885.5,143.7 894.2,143.3 904.0,145.3 923.8,145.6 929.2,146.4 934.7,147.3 944.5,146.4 954.4,147.3 965.3,148.4 983.9,148.0 990.5,147.3" fill="none" stroke="#FF0000" stroke-width="3.2" stroke-linejoin="round"/>
<rect x="11" y="103" width="1026" height="1" fill="#DCDCDC"/>
<rect x="11" y="168" width="1026" height="1" fill="#DCDCDC"/>
<rect x="11" y="233" width="1026" height="1" fill="#DCDCDC"/>
<rect x="11" y="297" width="1026" height="1" fill="#DCDCDC"/>
<rect x="11" y="362" width="1026" height="1" fill="#DCDCDC"/>
<rect x="11" y="426" width="1026" height="1" fill="#DCDCDC"/>
<rect x="11" y="491" width="1026" height="1" fill="#DCDCDC"/>
<rect x="11" y="555" width="1026" height="1" fill="#DCDCDC"/>
<rect x="204" y="48" width="1" height="548" fill="#DCDCDC"/>
<rect x="394" y="48" width="1" height="548" fill="#DCDCDC"/>
<rect x="614" y="48" width="1" height="548" fill="#DCDCDC"/>
<rect x="814" y="48" width="1" height="548" fill="#DCDCDC"/>
<rect x="1004" y="48" width="1" height="548" fill="#DCDCDC"/>
</g>
<g clip-path="url(#atrclip)">
<polyline points="19.5,645.8 29.5,649.7 39.5,648.1 49.5,632.8 59.5,626.9 69.5,621.9 79.5,617.3 89.5,612.3 99.5,620.8 109.5,623.0 119.5,629.9 129.5,631.5 139.5,634.4 149.5,640.1 159.5,640.1 169.5,639.2 179.5,641.3 189.5,639.0 199.5,638.3 209.5,640.6 219.5,636.7 229.5,633.8 239.5,632.8 249.5,630.6 259.5,626.9 269.5,629.2 279.5,633.7 289.5,631.2 299.5,631.2 309.5,629.2 319.5,624.6 329.5,621.6 339.5,615.5 349.5,612.5 359.5,614.1 369.5,614.4 379.5,616.0 389.5,629.6 399.5,635.3 409.5,639.9 419.5,644.4 429.5,647.2 439.5,646.3 449.5,647.2 459.5,648.3 469.5,646.7 479.5,642.2 489.5,638.7 499.5,636.9 509.5,634.6 519.5,632.6 529.5,632.6 539.5,635.3 549.5,636.0 559.5,637.6 569.5,642.8 579.5,647.4 589.5,650.1 599.5,652.0 609.5,651.3 619.5,649.0 629.5,646.7 639.5,645.1 649.5,643.3 659.5,645.1 669.5,645.1 679.5,644.4 689.5,644.0 699.5,642.6 709.5,641.5 719.5,642.2 729.5,636.5 739.5,631.4 749.5,632.4 759.5,635.3 769.5,630.8 779.5,636.5 789.5,641.7 799.5,637.6 809.5,634.6 819.5,631.4 829.5,625.5 839.5,622.3 849.5,621.2 859.5,611.4 869.5,615.5 879.5,622.8 889.5,623.9 899.5,624.2 909.5,633.0 919.5,631.9 929.5,630.8 939.5,631.4 949.5,636.0 959.5,635.5 969.5,636.0 979.5,635.5 989.5,638.3" fill="none" stroke="#000" stroke-width="1.1"/>
<rect x="11" y="630" width="1026" height="1" fill="#DCDCDC"/>
<rect x="204" y="611" width="1" height="55" fill="#DCDCDC"/>
<rect x="394" y="611" width="1" height="55" fill="#DCDCDC"/>
<rect x="614" y="611" width="1" height="55" fill="#DCDCDC"/>
<rect x="814" y="611" width="1" height="55" fill="#DCDCDC"/>
<rect x="1004" y="611" width="1" height="55" fill="#DCDCDC"/>
</g>
<rect x="1037" y="33" width="1" height="635" fill="#000"/>
<rect x="11" y="667" width="1027" height="1" fill="#000"/>
<rect x="1038" y="52" width="2" height="1" fill="#000"/>
<rect x="1038" y="78" width="2" height="1" fill="#000"/>
<rect x="1038" y="103" width="2" height="1" fill="#000"/>
<rect x="1038" y="129" width="2" height="1" fill="#000"/>
<rect x="1038" y="155" width="2" height="1" fill="#000"/>
<rect x="1038" y="181" width="2" height="1" fill="#000"/>
<rect x="1038" y="207" width="2" height="1" fill="#000"/>
<rect x="1038" y="233" width="2" height="1" fill="#000"/>
<rect x="1038" y="258" width="2" height="1" fill="#000"/>
<rect x="1038" y="284" width="2" height="1" fill="#000"/>
<rect x="1038" y="310" width="2" height="1" fill="#000"/>
<rect x="1038" y="336" width="2" height="1" fill="#000"/>
<rect x="1038" y="362" width="2" height="1" fill="#000"/>
<rect x="1038" y="388" width="2" height="1" fill="#000"/>
<rect x="1038" y="413" width="2" height="1" fill="#000"/>
<rect x="1038" y="439" width="2" height="1" fill="#000"/>
<rect x="1038" y="465" width="2" height="1" fill="#000"/>
<rect x="1038" y="491" width="2" height="1" fill="#000"/>
<rect x="1038" y="517" width="2" height="1" fill="#000"/>
<rect x="1038" y="542" width="2" height="1" fill="#000"/>
<rect x="1038" y="568" width="2" height="1" fill="#000"/>
<rect x="1038" y="594" width="2" height="1" fill="#000"/>
<rect x="1038" y="630" width="2" height="1" fill="#000"/>
<rect x="1038" y="663" width="2" height="1" fill="#000"/>
<rect x="18" y="668" width="1" height="3" fill="#000"/>
<rect x="38" y="668" width="1" height="3" fill="#000"/>
<rect x="58" y="668" width="1" height="3" fill="#000"/>
<rect x="88" y="668" width="1" height="3" fill="#000"/>
<rect x="118" y="668" width="1" height="3" fill="#000"/>
<rect x="148" y="668" width="1" height="3" fill="#000"/>
<rect x="178" y="668" width="1" height="3" fill="#000"/>
<rect x="208" y="668" width="1" height="3" fill="#000"/>
<rect x="238" y="668" width="1" height="3" fill="#000"/>
<rect x="258" y="668" width="1" height="3" fill="#000"/>
<rect x="288" y="668" width="1" height="3" fill="#000"/>
<rect x="318" y="668" width="1" height="3" fill="#000"/>
<rect x="348" y="668" width="1" height="3" fill="#000"/>
<rect x="398" y="668" width="1" height="3" fill="#000"/>
<rect x="428" y="668" width="1" height="3" fill="#000"/>
<rect x="448" y="668" width="1" height="3" fill="#000"/>
<rect x="468" y="668" width="1" height="3" fill="#000"/>
<rect x="498" y="668" width="1" height="3" fill="#000"/>
<rect x="528" y="668" width="1" height="3" fill="#000"/>
<rect x="558" y="668" width="1" height="3" fill="#000"/>
<rect x="588" y="668" width="1" height="3" fill="#000"/>
<rect x="618" y="668" width="1" height="3" fill="#000"/>
<rect x="648" y="668" width="1" height="3" fill="#000"/>
<rect x="668" y="668" width="1" height="3" fill="#000"/>
<rect x="688" y="668" width="1" height="3" fill="#000"/>
<rect x="718" y="668" width="1" height="3" fill="#000"/>
<rect x="748" y="668" width="1" height="3" fill="#000"/>
<rect x="778" y="668" width="1" height="3" fill="#000"/>
<rect x="818" y="668" width="1" height="3" fill="#000"/>
<rect x="848" y="668" width="1" height="3" fill="#000"/>
<rect x="868" y="668" width="1" height="3" fill="#000"/>
<rect x="888" y="668" width="1" height="3" fill="#000"/>
<rect x="918" y="668" width="1" height="3" fill="#000"/>
<rect x="948" y="668" width="1" height="3" fill="#000"/>
<rect x="978" y="668" width="1" height="3" fill="#000"/>
<rect x="1008" y="668" width="1" height="3" fill="#000"/>
</svg>
<div style="position:absolute;left:11px;top:33px;width:1026px;height:15px;overflow:hidden;">
<div class="t" style="left:4px;top:1px;font-size:12px;transform:scaleX(0.957)">ESH26-CME [CBV][M]  Daily #6</div>
<div class="t" style="left:169px;top:0px;width:55px;height:15px;background:#000"></div>
<div class="t" style="left:224.8px;top:0px;width:55.6px;height:15px;background:#f00"></div>
<div class="t" style="left:281.8px;top:0px;width:63.8px;height:15px;background:#f00"></div>
<div class="t" style="left:170.5px;top:1px;font-size:12px;color:#fff;transform:scaleX(0.875)">C: 6953.50</div>
<div class="t" style="left:226px;top:1px;font-size:12px;color:#fff;transform:scaleX(0.955)">Chg: -6.25</div>
<div class="t" style="left:283px;top:1px;font-size:12px;color:#fff;transform:scaleX(0.955)">DChg: -6.25</div>
<div class="t" style="left:347.6px;top:1px;font-size:12px;transform:scaleX(0.916)">2026-02-26 03:11:45 H: 6969.25 L: 6941.25 O: 6965.00 V: 70609 OI: 0 B: 6953.50 A: 6953.75 3x15 DR:0 BV: 0 AV: 0 DV: 70609 Moving Average</div>
</div>
<div class="t" style="left:15px;top:597px;font-size:12px;transform:scaleX(0.945)">Average True Range  ATR: 77.10   (Smp, 5)</div>
<div style="position:absolute;left:1039px;top:33px;width:48px;height:562px;overflow:hidden;">
<div class="t" style="left:3px;top:12.7px;font-size:12px;color:#000;transform:scaleX(0.895);">7080.00</div>
<div class="t" style="left:3px;top:38.6px;font-size:12px;color:#000;transform:scaleX(0.895);">7040.00</div>
<div class="t" style="left:3px;top:64.4px;font-size:12px;color:#000;transform:scaleX(0.895);">7000.00</div>
<div class="t" style="left:3px;top:116.1px;font-size:12px;color:#000;transform:scaleX(0.895);">6920.00</div>
<div class="t" style="left:3px;top:141.9px;font-size:12px;color:#000;transform:scaleX(0.895);">6880.00</div>
<div class="t" style="left:3px;top:167.7px;font-size:12px;color:#000;transform:scaleX(0.895);">6840.00</div>
<div class="t" style="left:3px;top:193.5px;font-size:12px;color:#000;transform:scaleX(0.895);">6800.00</div>
<div class="t" style="left:3px;top:219.4px;font-size:12px;color:#000;transform:scaleX(0.895);">6760.00</div>
<div class="t" style="left:3px;top:245.2px;font-size:12px;color:#000;transform:scaleX(0.895);">6720.00</div>
<div class="t" style="left:3px;top:271.0px;font-size:12px;color:#000;transform:scaleX(0.895);">6680.00</div>
<div class="t" style="left:3px;top:296.9px;font-size:12px;color:#000;transform:scaleX(0.895);">6640.00</div>
<div class="t" style="left:3px;top:322.7px;font-size:12px;color:#000;transform:scaleX(0.895);">6600.00</div>
<div class="t" style="left:3px;top:348.5px;font-size:12px;color:#000;transform:scaleX(0.895);">6560.00</div>
<div class="t" style="left:3px;top:374.3px;font-size:12px;color:#000;transform:scaleX(0.895);">6520.00</div>
<div class="t" style="left:3px;top:400.2px;font-size:12px;color:#000;transform:scaleX(0.895);">6480.00</div>
<div class="t" style="left:3px;top:426.0px;font-size:12px;color:#000;transform:scaleX(0.895);">6440.00</div>
<div class="t" style="left:3px;top:451.8px;font-size:12px;color:#000;transform:scaleX(0.895);">6400.00</div>
<div class="t" style="left:3px;top:477.6px;font-size:12px;color:#000;transform:scaleX(0.895);">6360.00</div>
<div class="t" style="left:3px;top:503.5px;font-size:12px;color:#000;transform:scaleX(0.895);">6320.00</div>
<div class="t" style="left:3px;top:529.3px;font-size:12px;color:#000;transform:scaleX(0.895);">6280.00</div>
<div class="t" style="left:3px;top:555.1px;font-size:12px;color:#000;transform:scaleX(0.895);">6240.00</div>
<div class="t" style="left:3px;top:90.2px;font-size:12px;color:#000;transform:scaleX(0.895);">6960.00</div>
</div>
<div class="d" style="left:-12.5px;">7</div>
<div class="d" style="left:7.5px;">9</div>
<div class="d" style="left:27.5px;">13</div>
<div class="d" style="left:57.5px;">16</div>
<div class="d" style="left:87.5px;">21</div>
<div class="d" style="left:117.5px;">24</div>
<div class="d" style="left:147.5px;">29</div>
<div class="d" style="left:177.5px;">Nov</div>
<div class="d" style="left:207.5px;">6</div>
<div class="d" style="left:227.5px;">10</div>
<div class="d" style="left:257.5px;">13</div>
<div class="d" style="left:287.5px;">18</div>
<div class="d" style="left:317.5px;">21</div>
<div class="d" style="left:367.5px;">Dec</div>
<div class="d" style="left:397.5px;">4</div>
<div class="d" style="left:417.5px;">8</div>
<div class="d" style="left:437.5px;">10</div>
<div class="d" style="left:467.5px;">15</div>
<div class="d" style="left:497.5px;">18</div>
<div class="d" style="left:527.5px;">23</div>
<div class="d" style="left:557.5px;">29</div>
<div class="d" style="left:617.5px;">7</div>
<div class="d" style="left:637.5px;">9</div>
<div class="d" style="left:657.5px;">13</div>
<div class="d" style="left:687.5px;">16</div>
<div class="d" style="left:717.5px;">22</div>
<div class="d" style="left:747.5px;">27</div>
<div class="d" style="left:787.5px;">Feb</div>
<div class="d" style="left:817.5px;">5</div>
<div class="d" style="left:837.5px;">9</div>
<div class="d" style="left:857.5px;">11</div>
<div class="d" style="left:887.5px;">17</div>
<div class="d" style="left:917.5px;">20</div>
<div class="d" style="left:947.5px;">25</div>
<div class="d" style="left:977.5px;">Mar</div>
<div style="position:absolute;left:605px;top:671px;width:26px;height:15px;background:#000;color:#fff;font-size:12px;line-height:15px;"><span style="display:inline-block;transform:scaleX(0.9);transform-origin:0 0;padding-left:1px">2026</span></div>
<div style="position:absolute;left:1041px;top:127px;width:41px;height:15px;background:#333;"></div>
<div class="t" style="left:1043px;top:128px;font-size:12px;color:#fff;transform:scaleX(0.88)">6953.50</div>
<div style="position:absolute;left:1039px;top:596px;width:48px;height:69px;overflow:hidden;">
<div class="t" style="left:3px;top:28px;font-size:12px;transform:scaleX(0.88)">100.00</div>
<div class="t" style="left:3px;top:62px;font-size:12px;transform:scaleX(0.88)">0.00</div>
</div>
<div style="position:absolute;left:1041px;top:630px;width:29px;height:15px;background:#000;"></div>
<div class="t" style="left:1042px;top:631px;font-size:12px;color:#fff;transform:scaleX(0.88)">77.10</div>
<div style="position:absolute;left:1055px;top:671px;width:31px;height:15px;background:#cce8ff;"></div>
<div class="t" style="left:1059px;top:672px;font-size:12px;transform:scaleX(0.9)">9 L E</div>
</body></html>
